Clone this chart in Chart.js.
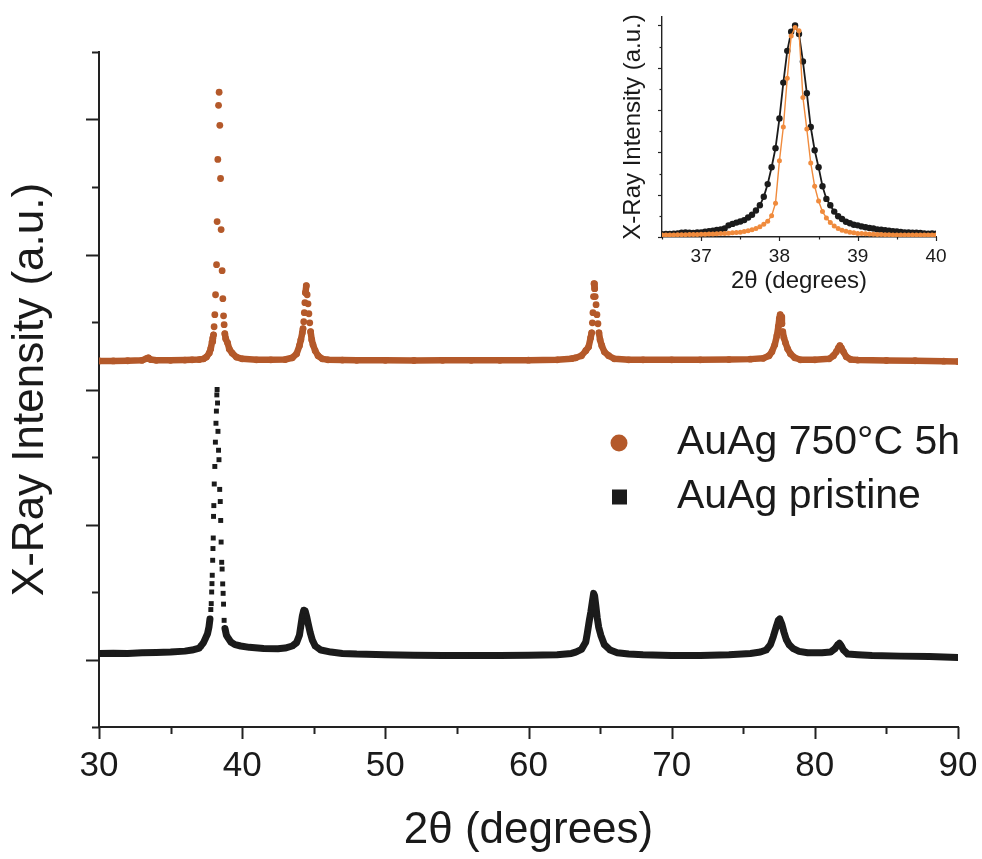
<!DOCTYPE html>
<html>
<head>
<meta charset="utf-8">
<script src="https://cdn.jsdelivr.net/npm/chart.js@4.4.1/dist/chart.umd.min.js"></script>
<style>
  body { margin: 0; background: #fff; }
  #wrap { position: relative; width: 982px; height: 859px; }
  #main { position: absolute; left: 0; top: 0; }
  #inset { position: absolute; left: 610px; top: 0; }
</style>
</head>
<body>
<div id="wrap">
  <canvas id="main" width="982" height="859" style="width:982px;height:859px"></canvas>
  <canvas id="inset" width="372" height="300" style="width:372px;height:300px"></canvas>
</div>
<script>
// main pattern, AuAg 750°C 5h (offset upwards)
const mainX750 = [30,31,32,33,33.3,33.45,33.6,34,35,36,36.5,37,37.3,37.5,37.7,37.8,37.9,37.95,38,38.04,38.09,38.14,38.21,38.25,38.3,38.35,38.39,38.44,38.49,38.53,38.6,38.65,38.7,38.74,38.79,38.85,38.98,39.1,39.3,39.6,40,41,42,43,43.5,43.8,44,44.1,44.2,44.25,44.3,44.34,44.38,44.42,44.48,44.54,44.6,44.66,44.72,44.78,44.86,44.95,45.1,45.3,45.6,46,47,48,50,52,54,56,58,60,62,63,63.3,63.7,64,64.2,64.34,64.41,64.46,64.5,64.54,64.58,64.62,64.66,64.72,64.78,64.85,64.92,65,65.12,65.3,65.6,66,67,68,70,72,74,75.5,76.4,76.8,77,77.2,77.35,77.45,77.52,77.58,77.64,77.7,77.76,77.84,77.95,78.1,78.3,78.6,79,80,81,81.3,81.5,81.65,81.75,81.85,82,82.2,82.5,83,85,87,89,90];
const mainY750 = [2.212,2.212,2.213,2.216,2.228,2.235,2.222,2.216,2.216,2.218,2.22,2.222,2.227,2.24,2.27,2.3,2.353,2.38,2.405,2.465,2.554,2.702,2.925,3.244,3.704,4.105,4.202,3.957,3.563,3.185,2.88,2.673,2.546,2.48,2.413,2.376,2.346,2.3,2.27,2.24,2.227,2.22,2.22,2.222,2.235,2.264,2.324,2.368,2.42,2.45,2.502,2.569,2.643,2.717,2.769,2.702,2.635,2.561,2.494,2.428,2.368,2.331,2.287,2.25,2.227,2.22,2.218,2.216,2.216,2.215,2.216,2.216,2.216,2.217,2.22,2.228,2.235,2.25,2.287,2.316,2.383,2.42,2.494,2.569,2.688,2.784,2.747,2.688,2.628,2.554,2.487,2.42,2.368,2.324,2.279,2.25,2.227,2.22,2.22,2.22,2.22,2.222,2.225,2.231,2.25,2.279,2.331,2.398,2.465,2.524,2.554,2.539,2.487,2.428,2.383,2.346,2.301,2.264,2.235,2.22,2.22,2.227,2.25,2.279,2.309,2.324,2.309,2.279,2.242,2.223,2.218,2.215,2.213,2.21,2.207];

// main pattern, AuAg pristine
const mainXPristine = [30,31,32,33,34,35,36,36.5,37,37.12,37.3,37.45,37.58,37.68,37.75,37.81,37.84,37.87,37.89,37.91,37.94,37.96,37.98,38,38.02,38.05,38.09,38.13,38.17,38.2,38.23,38.25,38.28,38.31,38.35,38.38,38.43,38.47,38.5,38.53,38.57,38.6,38.64,38.67,38.7,38.74,38.8,38.9,38.98,39.2,39.5,39.9,40.5,41.5,42.5,43,43.5,43.8,44,44.1,44.2,44.3,44.4,44.5,44.6,44.75,44.9,45.1,45.5,46.2,47,48,50,52,54,56,58,60,62,63,63.3,63.7,64,64.1,64.25,64.35,64.45,64.55,64.62,64.7,64.8,64.9,65.05,65.3,65.7,66.2,67,68,70,72,74,75.5,76.2,76.6,76.9,77.1,77.3,77.45,77.55,77.7,77.85,78,78.2,78.5,78.9,79.5,80.5,81.1,81.4,81.6,81.72,81.85,82,82.3,83,84,86,88,90];
const mainYPristine = [0.045,0.047,0.045,0.05,0.052,0.055,0.062,0.07,0.085,0.1,0.125,0.16,0.191,0.24,0.3,0.37,0.414,0.5,0.562,0.624,0.735,0.822,0.9,1.06,1.14,1.3,1.43,1.61,1.75,1.84,1.96,2.0,1.9,1.69,1.55,1.48,1.26,1.17,1.03,0.87,0.72,0.67,0.56,0.49,0.41,0.29,0.23,0.18,0.166,0.13,0.11,0.1,0.09,0.082,0.079,0.085,0.1,0.125,0.18,0.25,0.32,0.365,0.36,0.32,0.27,0.2,0.145,0.1,0.07,0.055,0.045,0.04,0.035,0.032,0.03,0.03,0.03,0.032,0.035,0.045,0.055,0.075,0.13,0.19,0.29,0.35,0.42,0.49,0.47,0.4,0.31,0.24,0.18,0.11,0.07,0.05,0.04,0.035,0.03,0.03,0.035,0.045,0.055,0.07,0.11,0.17,0.24,0.29,0.3,0.26,0.2,0.15,0.11,0.08,0.06,0.05,0.05,0.055,0.08,0.11,0.12,0.1,0.07,0.04,0.035,0.03,0.025,0.022,0.015];

// inset, (111) reflection, normalised
const insetX = [36.50,36.55,36.60,36.65,36.70,36.75,36.80,36.85,36.90,36.95,37.00,37.05,37.10,37.15,37.20,37.25,37.30,37.35,37.40,37.45,37.50,37.55,37.60,37.65,37.70,37.75,37.80,37.85,37.90,37.95,38.00,38.05,38.10,38.15,38.20,38.25,38.30,38.35,38.40,38.45,38.50,38.55,38.60,38.65,38.70,38.75,38.80,38.85,38.90,38.95,39.00,39.05,39.10,39.15,39.20,39.25,39.30,39.35,39.40,39.45,39.50,39.55,39.60,39.65,39.70,39.75,39.80,39.85,39.90,39.95,40.00];
const insetYPristine = [0.013,0.015,0.014,0.016,0.017,0.020,0.022,0.020,0.019,0.021,0.022,0.025,0.027,0.030,0.033,0.036,0.040,0.055,0.062,0.068,0.073,0.080,0.092,0.105,0.125,0.150,0.190,0.250,0.330,0.420,0.560,0.730,0.880,0.970,1.000,0.960,0.830,0.680,0.520,0.410,0.330,0.240,0.180,0.150,0.120,0.098,0.085,0.072,0.065,0.058,0.055,0.050,0.046,0.043,0.040,0.036,0.034,0.032,0.030,0.028,0.026,0.024,0.022,0.021,0.020,0.020,0.019,0.017,0.016,0.017,0.016];
const insetY750 = [0.010,0.010,0.010,0.010,0.011,0.011,0.011,0.012,0.012,0.012,0.013,0.013,0.014,0.014,0.015,0.016,0.017,0.018,0.020,0.021,0.023,0.026,0.030,0.034,0.040,0.048,0.060,0.075,0.100,0.160,0.360,0.520,0.750,0.950,0.990,0.975,0.660,0.510,0.350,0.240,0.170,0.120,0.090,0.068,0.052,0.040,0.032,0.027,0.023,0.020,0.017,0.016,0.015,0.014,0.013,0.012,0.012,0.011,0.011,0.010,0.010,0.010,0.010,0.010,0.010,0.010,0.010,0.010,0.010,0.010,0.010];

const mainXTicks = [30, 40, 50, 60, 70, 80, 90];
const insetXTicks = [37, 38, 39, 40];

const label750 = 'AuAg 750°C 5h';
const labelPristine = 'AuAg pristine';

const orangeDark = '#b4592a';
const orangeLight = '#f08b3d';
const black = '#1b1b1b';
const textColor = '#1a1a1a';
const axisColor = '#222222';
const fontFamily = "'Liberation Sans', Arial, Helvetica, sans-serif";

Chart.defaults.font.family = fontFamily;
Chart.defaults.color = textColor;

function toPoints(xs, ys) {
    return xs.map((v, i) => ({ x: v, y: ys[i] }));
}

// dense scan steps merge into one thick band, steep steps stay separate dots
function bandColor(color) {
    return ctx => {
        const dx = Math.abs(ctx.p1.x - ctx.p0.x);
        const dy = Math.abs(ctx.p1.y - ctx.p0.y);
        return (dy > 16 || dy / Math.max(dx, 0.1) > 9) ? 'rgba(0,0,0,0)' : color;
    };
}

// major / minor tick marks pointing outwards
const tickMarks = {
    id: 'tickMarks',
    afterDraw(chart, args, opts) {
        const ctx = chart.ctx;
        ctx.save();
        ctx.strokeStyle = opts.color;
        ctx.lineWidth = opts.width;
        for (const id of ['x', 'y']) {
            const s = chart.scales[id];
            const o = opts[id];
            const n = Math.round((s.max - s.min) / o.minor);
            for (let k = 0; k <= n; k++) {
                const v = s.min + k * o.minor;
                const r = (v - o.base) / o.major;
                const len = Math.abs(r - Math.round(r)) < 1e-6 ? o.majorLen : o.minorLen;
                const p = Math.round(s.getPixelForValue(v)) + 0.5;
                ctx.beginPath();
                if (id === 'x') {
                    ctx.moveTo(p, s.top);
                    ctx.lineTo(p, s.top + len);
                } else {
                    ctx.moveTo(s.right, p);
                    ctx.lineTo(s.right - len, p);
                }
                ctx.stroke();
            }
        }
        ctx.restore();
    }
};

const sampleLegend = {
    id: 'sampleLegend',
    afterDraw(chart) {
        const ctx = chart.ctx;
        ctx.save();
        ctx.font = '41px ' + fontFamily;
        ctx.textBaseline = 'middle';
        chart.data.datasets.forEach((ds, i) => {
            const cy = 443 + i * 54;
            ctx.fillStyle = ds.pointBackgroundColor;
            if (ds.pointStyle === 'rect') {
                ctx.fillRect(612, cy - 7.5, 15, 15);
            } else {
                ctx.beginPath();
                ctx.arc(619, cy, 8.5, 0, Math.PI * 2);
                ctx.fill();
            }
            ctx.fillStyle = textColor;
            ctx.fillText(ds.label, 677, cy);
        });
        ctx.restore();
    }
};

new Chart('main', {
    type: 'scatter',
    data: {
        datasets: [{
            label: label750,
            data: toPoints(mainX750, mainY750),
            showLine: true,
            borderWidth: 6.5,
            borderColor: orangeDark,
            borderCapStyle: 'round',
            borderJoinStyle: 'round',
            segment: { borderColor: bandColor(orangeDark) },
            pointStyle: 'circle',
            pointRadius: 3.4,
            pointBorderWidth: 0,
            pointBackgroundColor: orangeDark
        }, {
            label: labelPristine,
            data: toPoints(mainXPristine, mainYPristine),
            showLine: true,
            borderWidth: 7,
            borderColor: black,
            borderCapStyle: 'round',
            borderJoinStyle: 'round',
            segment: { borderColor: bandColor(black) },
            pointStyle: 'rect',
            pointRadius: 3.5,
            pointBorderWidth: 0,
            pointBackgroundColor: black
        }]
    },
    options: {
        responsive: false,
        animation: false,
        events: [],
        devicePixelRatio: 1,
        layout: { padding: { top: 52, right: 24, left: 0, bottom: 0 } },
        plugins: {
            legend: { display: false },
            tooltip: { enabled: false },
            tickMarks: {
                color: axisColor, width: 2,
                x: { minor: 5, major: 10, base: 30, majorLen: 12, minorLen: 7 },
                y: { minor: 0.5, major: 1, base: 0, majorLen: 13, minorLen: 7 }
            }
        },
        scales: {
            x: {
                type: 'linear',
                min: 30,
                max: 90,
                afterBuildTicks: s => { s.ticks = mainXTicks.map(v => ({ value: v })); },
                afterFit: s => { s.height = 132; s.paddingLeft = 0; s.paddingRight = 0; },
                grid: { display: false },
                border: { display: true, color: axisColor, width: 2 },
                ticks: { font: { size: 35 }, color: textColor, padding: 10, maxRotation: 0, autoSkip: false },
                title: {
                    display: true,
                    text: '2θ (degrees)',
                    font: { size: 44, lineHeight: 1 },
                    color: textColor,
                    padding: { top: 0, bottom: 6 }
                }
            },
            y: {
                type: 'linear',
                min: -0.5,
                max: 4.5,
                afterFit: s => { s.width = 99; },
                grid: { display: false },
                border: { display: true, color: axisColor, width: 2 },
                ticks: { display: false },
                title: {
                    display: true,
                    text: 'X-Ray Intensity (a.u.)',
                    font: { size: 44, lineHeight: 1 },
                    color: textColor,
                    padding: { top: 9, bottom: 0 }
                }
            }
        }
    },
    plugins: [tickMarks, sampleLegend]
});

new Chart('inset', {
    type: 'scatter',
    data: {
        datasets: [{
            label: label750,
            data: toPoints(insetX, insetY750),
            showLine: true,
            borderWidth: 1.4,
            borderColor: orangeLight,
            pointRadius: 2.5,
            pointBorderWidth: 0,
            pointBackgroundColor: orangeLight
        }, {
            label: labelPristine,
            data: toPoints(insetX, insetYPristine),
            showLine: true,
            borderWidth: 1.8,
            borderColor: black,
            pointRadius: 3.2,
            pointBorderWidth: 0,
            pointBackgroundColor: black
        }]
    },
    options: {
        responsive: false,
        animation: false,
        events: [],
        devicePixelRatio: 1,
        layout: { padding: { top: 17, right: 46, left: 0, bottom: 0 } },
        plugins: {
            legend: { display: false },
            tooltip: { enabled: false },
            tickMarks: {
                color: axisColor, width: 1.2,
                x: { minor: 0.5, major: 1, base: 37, majorLen: 4, minorLen: 2.5 },
                y: { minor: 0.1, major: 0.2, base: 0, majorLen: 4, minorLen: 2.5 }
            }
        },
        scales: {
            x: {
                type: 'linear',
                min: 36.5,
                max: 40,
                afterBuildTicks: s => { s.ticks = insetXTicks.map(v => ({ value: v })); },
                afterFit: s => { s.height = 63; s.paddingLeft = 0; s.paddingRight = 0; },
                grid: { display: false },
                border: { display: true, color: axisColor, width: 1.4 },
                ticks: { font: { size: 19 }, color: textColor, padding: 0, maxRotation: 0, autoSkip: false },
                title: {
                    display: true,
                    text: '2θ (degrees)',
                    font: { size: 24, lineHeight: 1 },
                    color: textColor,
                    padding: { top: 0, bottom: 7 }
                }
            },
            y: {
                type: 'linear',
                min: 0,
                max: 1.04,
                afterFit: s => { s.width = 52; },
                grid: { display: false },
                border: { display: true, color: axisColor, width: 1.4 },
                ticks: { display: false },
                title: {
                    display: true,
                    text: 'X-Ray Intensity (a.u.)',
                    font: { size: 24, lineHeight: 1 },
                    color: textColor,
                    padding: { top: 11, bottom: 0 }
                }
            }
        }
    },
    plugins: [tickMarks]
});
</script>
</body>
</html>
